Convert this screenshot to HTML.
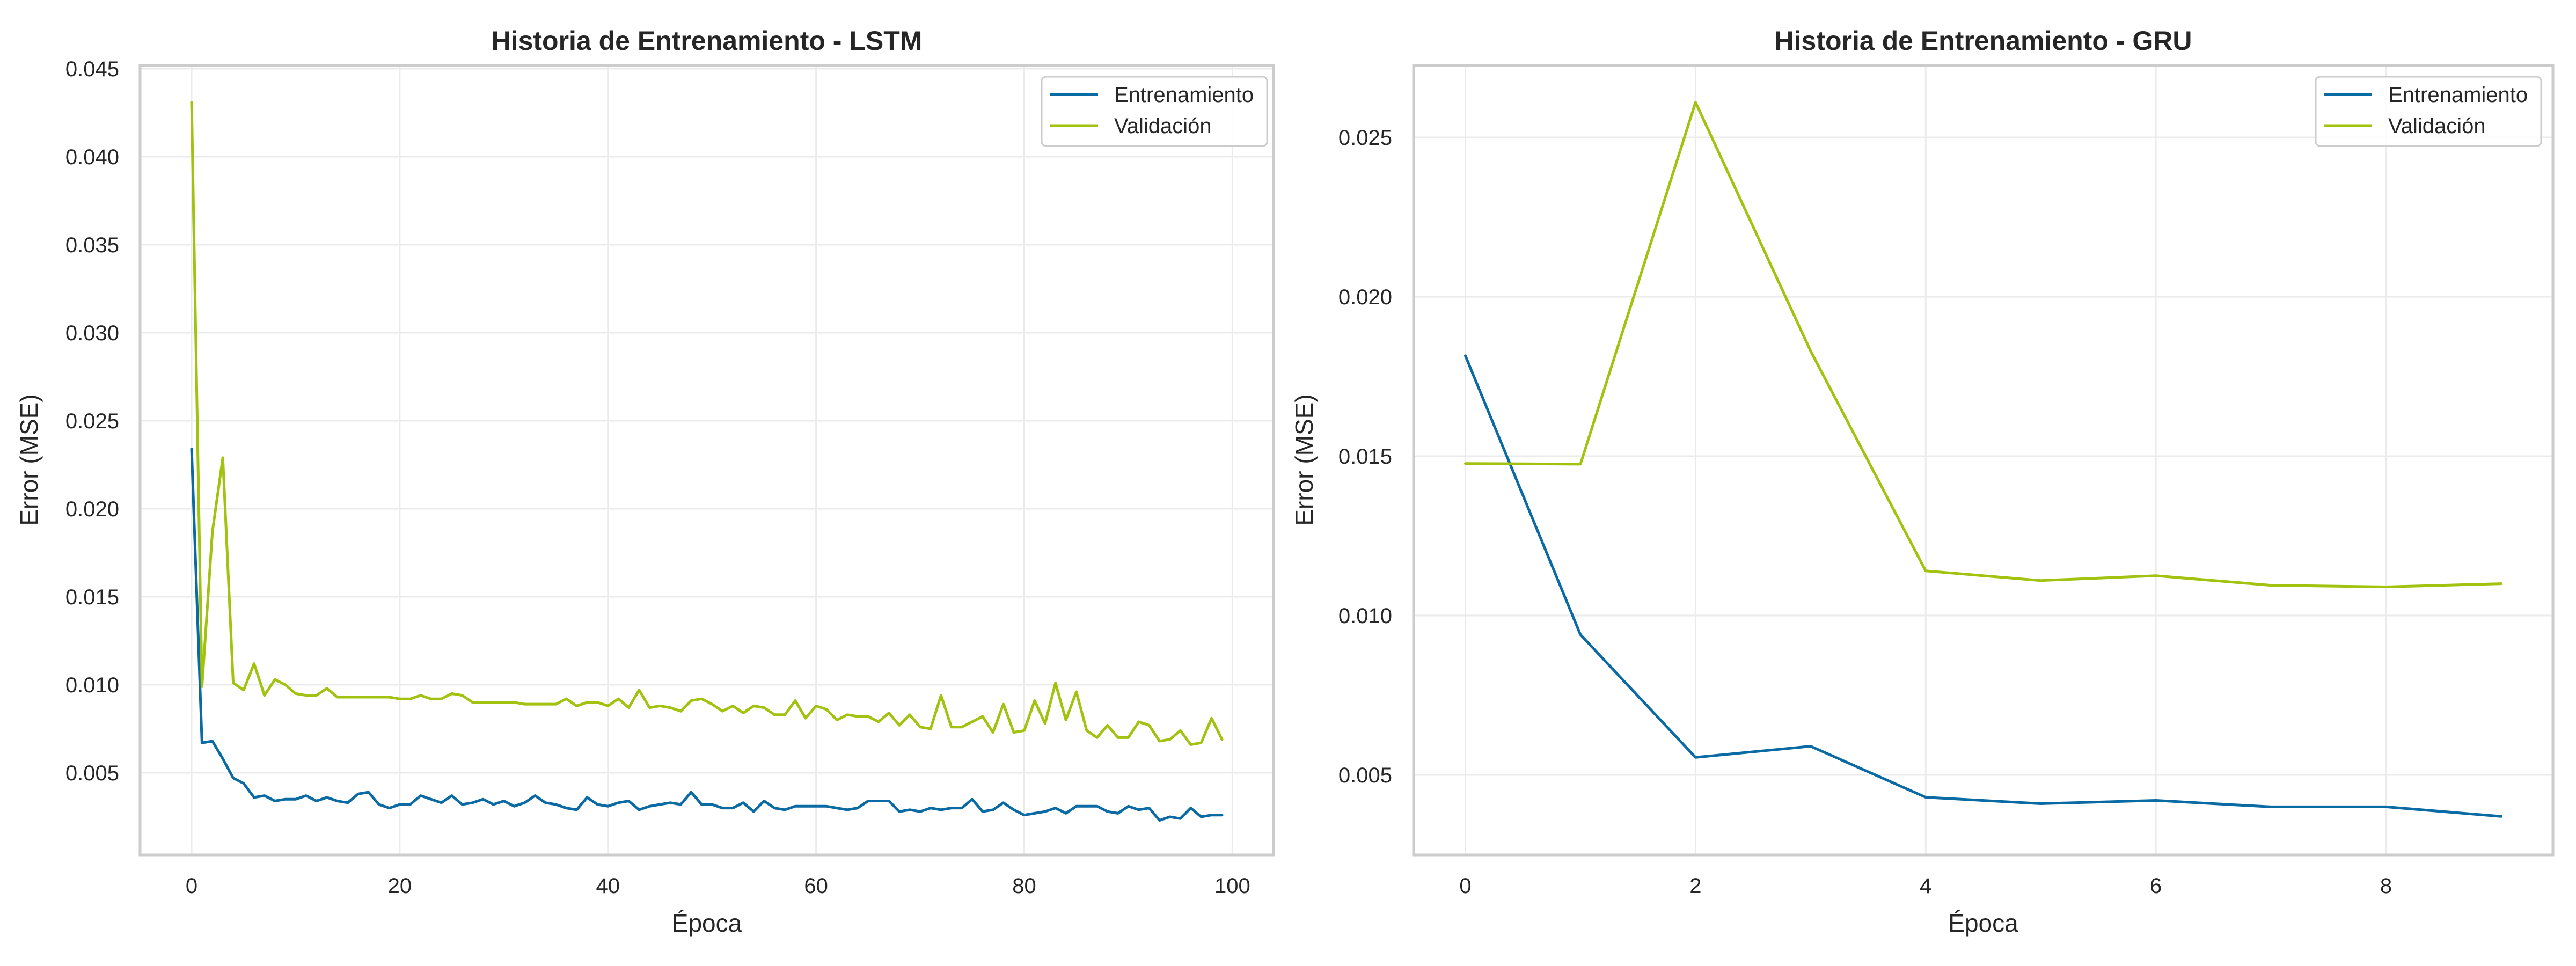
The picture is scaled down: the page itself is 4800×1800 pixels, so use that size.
<!DOCTYPE html>
<html><head><meta charset="utf-8">
<style>
html,body{margin:0;padding:0;background:#fff;}
svg{display:block;font-family:"Liberation Sans",Arial,sans-serif;}
</style></head>
<body>
<svg id="fig" width="4800" height="1800" viewBox="0 0 4800 1800" xmlns="http://www.w3.org/2000/svg"></svg>
<script>
const lstmEpochs = Array.from({length:100},(_,i)=>i);
const lstmTrain = [0.0234,0.0067,0.0068,0.0058,0.0047,0.0044,0.0036,0.0037,0.0034,0.0035,0.0035,0.0037,0.0034,0.0036,0.0034,0.0033,0.0038,0.0039,0.0032,0.0030,0.0032,0.0032,0.0037,0.0035,0.0033,0.0037,0.0032,0.0033,0.0035,0.0032,0.0034,0.0031,0.0033,0.0037,0.0033,0.0032,0.0030,0.0029,0.0036,0.0032,0.0031,0.0033,0.0034,0.0029,0.0031,0.0032,0.0033,0.0032,0.0039,0.0032,0.0032,0.0030,0.0030,0.0033,0.0028,0.0034,0.0030,0.0029,0.0031,0.0031,0.0031,0.0031,0.0030,0.0029,0.0030,0.0034,0.0034,0.0034,0.0028,0.0029,0.0028,0.0030,0.0029,0.0030,0.0030,0.0035,0.0028,0.0029,0.0033,0.0029,0.0026,0.0027,0.0028,0.0030,0.0027,0.0031,0.0031,0.0031,0.0028,0.0027,0.0031,0.0029,0.0030,0.0023,0.0025,0.0024,0.0030,0.0025,0.0026,0.0026];
const lstmVal = [0.0431,0.0099,0.0187,0.0229,0.0101,0.0097,0.0112,0.0094,0.0103,0.0100,0.0095,0.0094,0.0094,0.0098,0.0093,0.0093,0.0093,0.0093,0.0093,0.0093,0.0092,0.0092,0.0094,0.0092,0.0092,0.0095,0.0094,0.0090,0.0090,0.0090,0.0090,0.0090,0.0089,0.0089,0.0089,0.0089,0.0092,0.0088,0.0090,0.0090,0.0088,0.0092,0.0087,0.0097,0.0087,0.0088,0.0087,0.0085,0.0091,0.0092,0.0089,0.0085,0.0088,0.0084,0.0088,0.0087,0.0083,0.0083,0.0091,0.0081,0.0088,0.0086,0.0080,0.0083,0.0082,0.0082,0.0079,0.0084,0.0077,0.0083,0.0076,0.0075,0.0094,0.0076,0.0076,0.0079,0.0082,0.0073,0.0089,0.0073,0.0074,0.0091,0.0078,0.0101,0.0080,0.0096,0.0074,0.0070,0.0077,0.0070,0.0070,0.0079,0.0077,0.0068,0.0069,0.0074,0.0066,0.0067,0.0081,0.0069];
const gruEpochs = [0,1,2,3,4,5,6,7,8,9];
const gruTrain = [0.01815,0.0094,0.00555,0.0059,0.0043,0.0041,0.0042,0.0040,0.0040,0.0037];
const gruVal = [0.01477,0.01475,0.0261,0.0183,0.0114,0.0111,0.01125,0.01095,0.0109,0.0110];
const lstmXTicks = [0,20,40,60,80,100];
const lstmYTicks = [0.005,0.010,0.015,0.020,0.025,0.030,0.035,0.040,0.045];
const gruXTicks = [0,2,4,6,8];
const gruYTicks = [0.005,0.010,0.015,0.020,0.025];

const NS="http://www.w3.org/2000/svg";
const svg=document.getElementById('fig');
function mk(tag,attrs,parent){const e=document.createElementNS(NS,tag);for(const k in attrs)e.setAttribute(k,attrs[k]);(parent||svg).appendChild(e);return e;}
const BLUE="#0a6aa3", GREEN="#a1c20e";

function panel(cfg){
  const g=mk('g',{});
  
  
  const L=cfg.left,R=cfg.right,T=122,B=1593;
  const sx=v=>L+(v-cfg.xmin)/(cfg.xmax-cfg.xmin)*(R-L);
  const sy=v=>cfg.y0px+(cfg.y0val-v)/0.005*cfg.ystep;
  // grid
  cfg.yTicks.forEach(v=>{
    const l=mk('line',{x1:L,x2:R,y1:sy(v),y2:sy(v),stroke:'#ebebeb','stroke-width':3},g);
    
    
    const t=mk('text',{x:cfg.yLabelRight,y:sy(v)+14,'text-anchor':'end','font-size':40,fill:'#262626'},g);
    t.textContent=v.toFixed(3);
    
    
  });
  cfg.xTicks.forEach(v=>{
    const l=mk('line',{x1:sx(v),x2:sx(v),y1:T,y2:B,stroke:'#ebebeb','stroke-width':3},g);
    
    
    const t=mk('text',{x:sx(v),y:1664,'text-anchor':'middle','font-size':40,fill:'#262626'},g);
    t.textContent=String(v);
    
    
  });
  // series
  const series=[[cfg.train,BLUE,'train-line'],[cfg.val,GREEN,'validation-line']];
  series.forEach(([arr,col,nm])=>{
    const d=arr.map((v,i)=>(i?'L':'M')+sx(cfg.epochs[i]).toFixed(1)+' '+sy(v).toFixed(1)).join(' ');
    const p=mk('path',{d:d,fill:'none',stroke:col,'stroke-width':5,'stroke-linejoin':'round','stroke-linecap':'round'},g);
    
    
  });
  // spines
  const r=mk('rect',{x:L,y:T,width:R-L,height:B-T,fill:'none',stroke:'#cccccc','stroke-width':5},g);
  
  
  // title
  const tt=mk('text',{x:(L+R)/2,y:93,'text-anchor':'middle','font-size':50,'font-weight':'bold',fill:'#262626'},g);
  tt.textContent=cfg.title;
  
  
  const xl=mk('text',{x:(L+R)/2,y:1736,'text-anchor':'middle','font-size':46,fill:'#262626'},g);
  xl.textContent='Época';
  
  
  const yl=mk('text',{x:0,y:0,'text-anchor':'middle','font-size':46,fill:'#262626',transform:`translate(${cfg.yTitleX},857) rotate(-90)`},g);
  yl.textContent='Error (MSE)';
  
  
  // legend
  const lg=mk('g',{},g);
  
  
  const lr=mk('rect',{x:cfg.legX,y:143,width:420,height:129,rx:8,fill:'#ffffff','fill-opacity':0.85,stroke:'#cccccc','stroke-width':3},lg);
  
  
  [['Entrenamiento',BLUE,176,'legend-entry-train'],['Validación',GREEN,234,'legend-entry-validation']].forEach(([txt,col,yy,nm])=>{
    const e=mk('g',{},lg);
    
    
    mk('line',{x1:cfg.legX+15,x2:cfg.legX+105,y1:yy,y2:yy,stroke:col,'stroke-width':5},e);
    const t=mk('text',{x:cfg.legX+135,y:yy+14,'font-size':40,fill:'#262626'},e);
    t.textContent=txt;
  });
}

panel({name:'lstm-chart',title:'Historia de Entrenamiento - LSTM',left:261,right:2373,xmin:-4.95,xmax:103.95,
  y0px:128,y0val:0.045,ystep:164,xTicks:lstmXTicks,yTicks:lstmYTicks,epochs:lstmEpochs,train:lstmTrain,val:lstmVal,
  yLabelRight:222,yTitleX:70,legX:1941});
panel({name:'gru-chart',title:'Historia de Entrenamiento - GRU',left:2634,right:4757,xmin:-0.45,xmax:9.45,
  y0px:256,y0val:0.025,ystep:297,xTicks:gruXTicks,yTicks:gruYTicks,epochs:gruEpochs,train:gruTrain,val:gruVal,
  yLabelRight:2594,yTitleX:2446,legX:4315});
</script>
</body></html>
